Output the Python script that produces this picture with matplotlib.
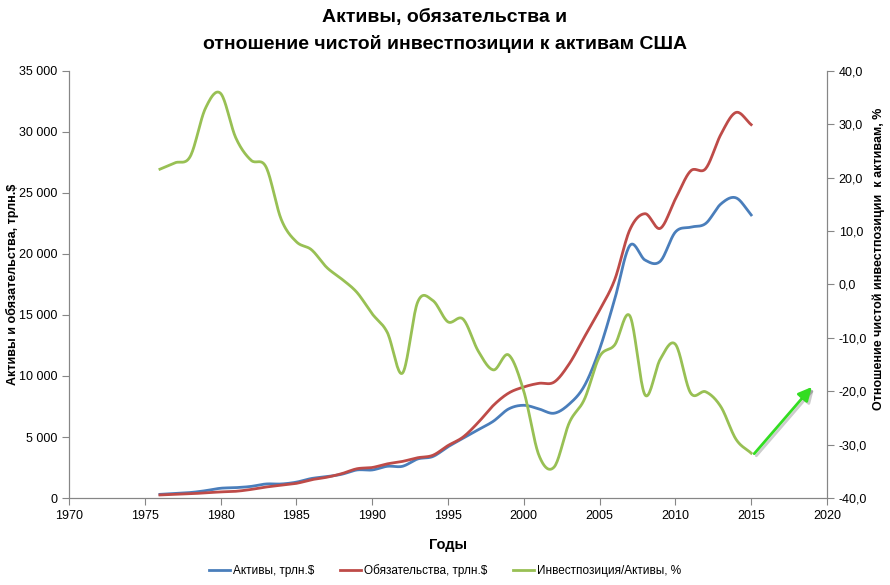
import numpy as np
import matplotlib
matplotlib.use("Agg")
import matplotlib.pyplot as plt
from matplotlib.ticker import FuncFormatter
import matplotlib.patheffects as pe

plt.rcParams['font.family'] = ['Liberation Sans', 'DejaVu Sans']

years = list(range(1976, 2016))
assets = [300, 380, 450, 600, 800, 850, 950, 1150, 1150, 1300,
          1600, 1750, 1950, 2300, 2300, 2600, 2600, 3200, 3400, 4200,
          4900, 5600, 6300, 7300, 7600, 7300, 6950, 7700, 9200, 12200,
          16300, 20700, 19500, 19400, 21800, 22200, 22500, 24100, 24600, 23200]
liabilities = [250, 300, 350, 420, 500, 550, 700, 900, 1050, 1200,
               1500, 1700, 2000, 2400, 2500, 2800, 3000, 3300, 3500, 4300,
               5000, 6200, 7600, 8600, 9100, 9400, 9500, 11000, 13200, 15400,
               17900, 22000, 23300, 22100, 24500, 26800, 27000, 29800, 31600, 30600]
ratio = [21.6, 22.8, 24.0, 33.0, 35.8, 27.5, 23.3, 22.0, 12.2, 8.0,
         6.5, 3.2, 1.0, -1.5, -5.5, -9.0, -16.6, -3.3, -3.0, -7.0,
         -6.5, -12.5, -16.0, -13.2, -20.0, -32.0, -34.2, -25.9, -21.5, -13.5,
         -11.3, -5.9, -20.7, -14.0, -11.2, -20.3, -20.1, -22.9, -29.0, -31.6]

arrow_start = (2015.2, -31.7)
arrow_end = (2019.0, -19.2)


def smooth(x, y, n=20):
    # Catmull-Rom style smoothing like Excel "smoothed line"
    x = np.asarray(x, float)
    y = np.asarray(y, float)
    px = np.concatenate([[2 * x[0] - x[1]], x, [2 * x[-1] - x[-2]]])
    py = np.concatenate([[2 * y[0] - y[1]], y, [2 * y[-1] - y[-2]]])
    xs, ys = [], []
    t = np.linspace(0, 1, n, endpoint=False)
    for i in range(1, len(px) - 2):
        for p, out in ((px, xs), (py, ys)):
            p0, p1, p2, p3 = p[i - 1], p[i], p[i + 1], p[i + 2]
            out.extend(0.5 * ((2 * p1) + (-p0 + p2) * t +
                              (2 * p0 - 5 * p1 + 4 * p2 - p3) * t ** 2 +
                              (-p0 + 3 * p1 - 3 * p2 + p3) * t ** 3))
    xs.append(x[-1])
    ys.append(y[-1])
    return np.array(xs), np.array(ys)


fig = plt.figure(figsize=(8.9, 5.85), dpi=100)
ax = fig.add_axes([0.0775, 0.1487, 0.8517, 0.73])
ax2 = ax.twinx()

blue = '#4a7ebb'
red = '#be4b48'
green = '#98c054'

l1, = ax.plot(*smooth(years, assets), color=blue, lw=2, label='Активы, трлн.$')
l2, = ax.plot(*smooth(years, liabilities), color=red, lw=2, label='Обязательства, трлн.$')
l3, = ax2.plot(*smooth(years, ratio), color=green, lw=2, label='Инвестпозиция/Активы, %')

ax2.annotate('', xy=arrow_end, xytext=arrow_start,
             arrowprops=dict(arrowstyle='-|>,head_length=0.8,head_width=0.4',
                             color='#33dd22', lw=2, shrinkA=0, shrinkB=0,
                             path_effects=[pe.SimpleLineShadow(offset=(1.5, -1.5), alpha=0.2),
                                           pe.Normal()]))

ax.set_xlim(1970, 2020)
ax.set_ylim(0, 35000)
ax2.set_ylim(-40, 40)
ax.set_xticks(range(1970, 2021, 5))
ax.set_yticks(range(0, 35001, 5000))
ax2.set_yticks(range(-40, 41, 10))
ax.yaxis.set_major_formatter(FuncFormatter(lambda v, p: f'{int(v):,}'.replace(',', ' ')))
ax2.yaxis.set_major_formatter(FuncFormatter(lambda v, p: f'{v:.1f}'.replace('.', ',')))

spine_c = '#868686'
for a in (ax, ax2):
    a.spines['top'].set_visible(False)
    for s in ('left', 'right', 'bottom'):
        a.spines[s].set_color(spine_c)
    a.tick_params(colors=spine_c, labelcolor='black', labelsize=9, length=5)

ax.set_ylabel('Активы и обязательства, трлн.$', fontsize=9, fontweight='bold')
ax.yaxis.set_label_coords(-0.066, 0.5)
ax2.set_ylabel('Отношение чистой инвестпозиции  к активам, %', fontsize=9,
               fontweight='bold')
ax2.yaxis.set_label_coords(1.06, 0.56)
ax.set_xlabel('Годы', fontsize=10.5, fontweight='bold', labelpad=12)

fig.text(0.5, 0.97, 'Активы, обязательства и', ha='center', va='center',
         fontsize=14, fontweight='bold')
fig.text(0.5, 0.925, 'отношение чистой инвестпозиции к активам США', ha='center',
         va='center', fontsize=14, fontweight='bold')

fig.legend(handles=[l1, l2, l3], loc='center', bbox_to_anchor=(0.5, 0.025), ncol=3,
           frameon=False, fontsize=8.5, handlelength=1.8, columnspacing=2.2,
           handletextpad=0.2)

fig.savefig('out.png', dpi=100)
